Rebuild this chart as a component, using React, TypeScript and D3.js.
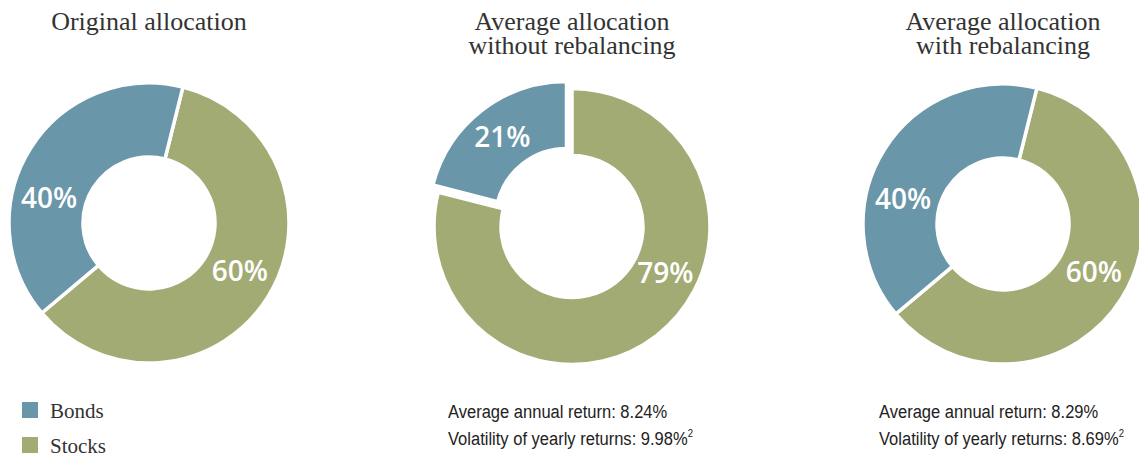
import React from 'react';
import * as d3 from 'd3';

// ---- data ----
const categories = ['Stocks', 'Bonds'];
const chartTitles = [
  ['Original allocation'],
  ['Average allocation', 'without rebalancing'],
  ['Average allocation', 'with rebalancing'],
];
const stocksShare = [60, 79, 60];
const bondsShare = [40, 21, 40];
const annualReturn = ['', '8.24%', '8.29%'];
const yearlyVolatility = ['', '9.98%', '8.69%'];
const legendItems = ['Bonds', 'Stocks'];

// ---- styling / layout ----
const colors: Record<string, string> = { Bonds: '#6a96aa', Stocks: '#a2ab74' };
const W = 1139;
const H = 455;
const layout = [
  { cx: 149, cy: 223, R: 140, r: 66, rot: 14, labelAngle: { Stocks: 118, Bonds: 284 } as Record<string, number | null>, explode: {} as Record<string, number> },
  { cx: 572, cy: 226.5, R: 138, r: 71, rot: 0, labelAngle: { Stocks: 116.6, Bonds: null } as Record<string, number | null>, explode: { Bonds: 9 } as Record<string, number> },
  { cx: 1003, cy: 224, R: 140, r: 66, rot: 14, labelAngle: { Stocks: 118, Bonds: 284 } as Record<string, number | null>, explode: {} as Record<string, number> },
];
const titleFont = '"Liberation Serif", "Times New Roman", serif';
const labelFont = '"Open Sans", "Noto Sans", sans-serif';
const statFont = '"Liberation Sans", Arial, sans-serif';
const rad = Math.PI / 180;

function Donut({ i }: { i: number }) {
  const L = layout[i];
  const values = [stocksShare[i], bondsShare[i]];
  const data = categories.map((c, k) => ({ cat: c, value: values[k] }));
  const pie = d3
    .pie<{ cat: string; value: number }>()
    .sort(null)
    .value((d) => d.value)
    .startAngle(L.rot * rad)
    .endAngle(L.rot * rad + 2 * Math.PI);
  const arcs = pie(data);
  const arc = d3.arc<d3.PieArcDatum<{ cat: string; value: number }>>().innerRadius(L.r).outerRadius(L.R);
  const midR = (L.R + L.r) / 2;
  return (
    <g transform={`translate(${L.cx},${L.cy})`}>
      {arcs.map((a) => {
        const mid = (a.startAngle + a.endAngle) / 2;
        const ex = L.explode[a.data.cat] || 0;
        const ox = ex * Math.sin(mid);
        const oy = -ex * Math.cos(mid);
        const la = L.labelAngle[a.data.cat];
        let lx: number, ly: number;
        if (la == null) {
          const c = arc.centroid(a);
          lx = c[0];
          ly = c[1];
        } else {
          lx = midR * Math.sin(la * rad);
          ly = -midR * Math.cos(la * rad);
        }
        return (
          <g key={a.data.cat} transform={`translate(${ox},${oy})`}>
            <path d={arc(a) || ''} fill={colors[a.data.cat]} stroke="#fff" strokeWidth={3.5} strokeLinejoin="miter" />
            <text
              x={lx}
              y={ly}
              dy="0.36em"
              textAnchor="middle"
              fill="#fff"
              fontFamily={labelFont}
              fontWeight={600}
              fontSize={28}
            >
              {`${a.data.value}%`}
            </text>
          </g>
        );
      })}
    </g>
  );
}

export default function App() {
  return (
    <svg
      width={W}
      height={H}
      viewBox={`0 0 ${W} ${H}`}
      style={{ position: 'absolute', left: 0, top: 0, background: '#fff' }}
    >
      {chartTitles.map((lines, i) => (
        <text
          key={'t' + i}
          x={layout[i].cx}
          y={29.5}
          textAnchor="middle"
          fontFamily={titleFont}
          fontSize={26}
          fill="#333"
        >
          {lines.map((ln, k) => (
            <tspan key={k} x={layout[i].cx} y={29.5 + k * 24}>
              {ln}
            </tspan>
          ))}
        </text>
      ))}
      {chartTitles.map((_, i) => (
        <Donut key={'d' + i} i={i} />
      ))}
      {legendItems.map((c, k) => (
        <g key={'l' + c} transform={`translate(22,${402 + k * 35})`}>
          <rect width={16} height={16} fill={colors[c]} />
          <text x={28} y={15.5} fontFamily={titleFont} fontSize={21} fill="#333">
            {c}
          </text>
        </g>
      ))}
      {annualReturn.map((ret, i) =>
        ret ? (
          <g key={'s' + i} transform={`translate(${layout[i].cx - 124},0) scale(0.87,1)`}>
            <text x={0} y={418} fontFamily={statFont} fontSize={19} fill="#222">
              {`Average annual return: ${ret}`}
            </text>
            <text x={0} y={445} fontFamily={statFont} fontSize={19} fill="#222">
              {`Volatility of yearly returns: ${yearlyVolatility[i]}`}
              <tspan fontSize={11} dy={-8}>
                2
              </tspan>
            </text>
          </g>
        ) : null
      )}
    </svg>
  );
}
